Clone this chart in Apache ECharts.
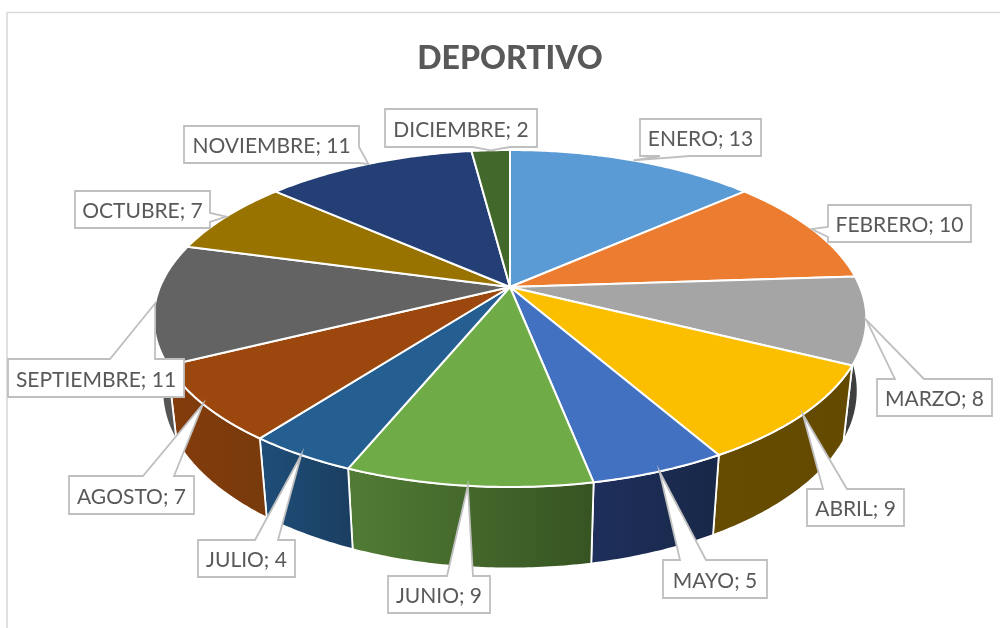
<!DOCTYPE html>
<html>
<head>
<meta charset="utf-8">
<style>html,body{margin:0;padding:0;background:#fff}#c{width:1000px;height:628px}</style>
<script src="https://cdn.jsdelivr.net/npm/echarts@6/dist/echarts.min.js"></script>
</head>
<body>
<div id="c"></div>
<script>
const categories = ['ENERO','FEBRERO','MARZO','ABRIL','MAYO','JUNIO','JULIO','AGOSTO','SEPTIEMBRE','OCTUBRE','NOVIEMBRE','DICIEMBRE'];
const values = [13,10,8,9,5,9,4,7,11,7,11,2];
const topColors = ['#5b9bd5','#ec7c30','#a5a5a5','#fcbf00','#4371c2','#6fac47','#255e91','#9b470e','#636363','#997300','#243f76','#43682b'];
const wallLeft = ['#3a6690','#9c5220','#3f3f3f','#654c00','#1e2f5c','#527c35','#1f4e79','#843c0c','#555555','#654c00','#192d50','#2c441c'];
const wallRight = ['#3a6690','#9c5220','#3f3f3f','#634a00','#182848','#365422','#1a3e60','#783a0c','#555555','#654c00','#192d50','#2c441c'];
// label boxes: [x, y, w, h, side of the tail, tail start, tail end]
const labelBoxes = [
  [640,119,121,37,'B',660,690],
  [828,205,143,37,'L',227,237],
  [877,379,115,37,'T',895,924],
  [807,489,97,37,'T',823,847],
  [663,560,104,38,'T',680,706],
  [388,576,102,37,'T',447,473],
  [198,540,97,37,'T',255,278],
  [69,476,125,38,'T',143,174],
  [8,359,176,38,'T',110,155],
  [75,191,135,37,'R',213,222],
  [184,126,175,37,'R',147,163],
  [385,109,152,38,'B',473,510]
];

const CX = 510, CY = 287, A = 350, B = 162.6, K = 0.187, M = 0.024, N = 73;
const total = values.reduce((a, b) => a + b, 0);
const cumulative = [];
values.reduce((s, v, i) => (cumulative[i] = s, s + v), 0);

function project(share, low) {
  const t = share / total * 2 * Math.PI;
  const X = Math.sin(t), Y = -Math.cos(t);
  const w = 1 - K * Y + (low ? M : 0);
  return [CX + A * X / w, CY + (B * Y + (low ? N : 0)) / w];
}
function rim(i, low) {
  const pts = [], n = Math.max(8, values[i] * 6);
  for (let j = 0; j <= n; j++) pts.push(project(cumulative[i] + values[i] * j / n, low));
  return pts;
}
const lineColor = '#bfbfbf', textColor = '#595959', font = 'Lato';

function renderWall(params) {
  const i = params.dataIndex;
  const upper = rim(i, false), lower = rim(i, true);
  const pts = upper.concat(lower.slice().reverse());
  const xs = pts.map(p => p[0]);
  return {
    type: 'polygon', shape: { points: pts },
    style: {
      fill: { type: 'linear', global: true, x: Math.min(...xs), y: 0, x2: Math.max(...xs), y2: 0,
        colorStops: [{ offset: 0, color: wallLeft[i] }, { offset: 1, color: wallRight[i] }] },
      stroke: '#ffffff', lineWidth: 1.8, lineJoin: 'round'
    }
  };
}
function renderTop(params) {
  const i = params.dataIndex;
  return {
    type: 'polygon', shape: { points: [[CX, CY]].concat(rim(i, false)) },
    style: { fill: topColors[i], stroke: '#ffffff', lineWidth: 2, lineJoin: 'round' }
  };
}
function renderLabel(params, api) {
  const i = params.dataIndex;
  const [x, y, w, h, side, a, b] = labelBoxes[i];
  const tip = project(cumulative[i] + values[i] / 2, false);
  const r = x + w, d = y + h;
  let pts;
  if (side === 'T') pts = [[x, y], [a, y], tip, [b, y], [r, y], [r, d], [x, d]];
  if (side === 'R') pts = [[x, y], [r, y], [r, a], tip, [r, b], [r, d], [x, d]];
  if (side === 'B') pts = [[x, y], [r, y], [r, d], [b, d], tip, [a, d], [x, d]];
  if (side === 'L') pts = [[x, y], [r, y], [r, d], [x, d], [x, b], tip, [x, a]];
  return {
    type: 'group',
    children: [
      { type: 'polygon', shape: { points: pts },
        style: { fill: '#ffffff', stroke: lineColor, lineWidth: 1.8, lineJoin: 'miter' } },
      { type: 'text', style: {
          x: x + w / 2, y: y + h / 2 + 2,
          text: categories[i] + '; ' + api.value(0),
          fill: textColor, font: '21px ' + font, align: 'center', verticalAlign: 'middle' } }
    ]
  };
}
const seriesData = values.map((v, i) => ({ name: categories[i], value: v }));
const chart = echarts.init(document.getElementById('c'), null, { renderer: 'canvas' });
chart.setOption({
  animation: false,
  backgroundColor: '#ffffff',
  title: {
    text: 'DEPORTIVO', left: 505, top: 38, textAlign: 'center',
    textStyle: { color: textColor, fontFamily: font, fontWeight: 900, fontSize: 32 }
  },
  graphic: [{
    type: 'polyline', silent: true, z: -1,
    shape: { points: [[7, 640], [7, 12.5], [1010, 12.5]] },
    style: { fill: null, stroke: '#d9d9d9', lineWidth: 1.6 }
  }],
  series: [
    { type: 'custom', coordinateSystem: 'none', silent: true, z: 2, renderItem: renderWall, data: seriesData },
    { type: 'custom', coordinateSystem: 'none', silent: true, z: 3, renderItem: renderTop, data: seriesData },
    { type: 'custom', coordinateSystem: 'none', silent: true, z: 4, renderItem: renderLabel, data: seriesData }
  ]
});
</script>
</body>
</html>
